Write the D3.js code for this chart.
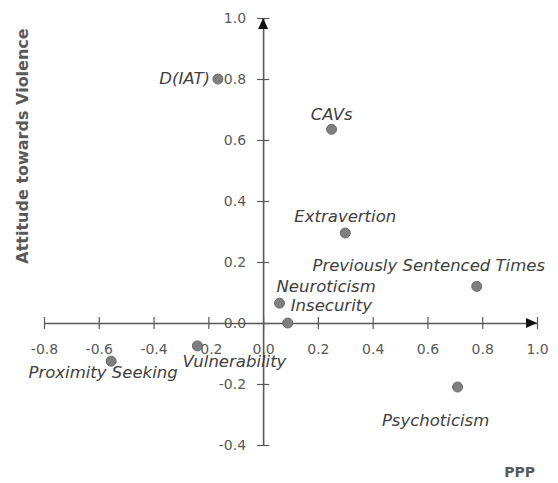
<!DOCTYPE html>
<html>
<head>
<meta charset="utf-8">
<script src="https://cdn.jsdelivr.net/npm/d3@7"></script>
<style>
  body { margin: 0; background: #fff; }
  svg { display: block; font-family: "DejaVu Sans", sans-serif; }
</style>
</head>
<body>
<svg width="558" height="483"></svg>
<script>
// data
const names = ["D(IAT)", "CAVs", "Extravertion", "Previously Sentenced Times", "Neuroticism",
  "Insecurity", "Vulnerability", "Proximity Seeking", "Psychoticism"]
const pppValues = [-0.165, 0.25, 0.30, 0.78, 0.06, 0.09, -0.24, -0.555, 0.71]
const violenceValues = [0.80, 0.635, 0.295, 0.12, 0.065, 0.0, -0.075, -0.125, -0.21]
const xTicks = [-0.8, -0.6, -0.4, -0.2, 0.0, 0.2, 0.4, 0.6, 0.8, 1.0]
const yTicks = [-0.4, -0.2, 0.0, 0.2, 0.4, 0.6, 0.8, 1.0]

// where each label sits relative to its point
const labelPlacement = [
  {dx: -8, dy: 5, anchor: "end"},
  {dx: 0, dy: -9, anchor: "middle"},
  {dx: 0, dy: -11, anchor: "middle"},
  {dx: -48, dy: -15, anchor: "middle"},
  {dx: -3, dy: -11, anchor: "start"},
  {dx: 3, dy: -12, anchor: "start"},
  {dx: -15, dy: 21, anchor: "start"},
  {dx: -8, dy: 17, anchor: "middle"},
  {dx: -22, dy: 39, anchor: "middle"}
]

const ink = "#595959"
const svg = d3.select("svg")

const x = d3.scaleLinear().domain([-0.8, 1.0]).range([44, 537])
const y = d3.scaleLinear().domain([-0.4, 1.0]).range([445, 18])
const fmt = v => d3.format(".1f")(v).replace("\u2212", "-")

// x axis along y = 0
const xAxis = svg.append("g")
  .attr("transform", "translate(0," + y(0) + ")")
  .call(d3.axisBottom(x).tickValues(xTicks).tickFormat(fmt).tickSizeOuter(0))
xAxis.select(".domain").attr("stroke", ink).attr("stroke-width", 1.6)
xAxis.selectAll(".tick line").attr("stroke", ink).attr("stroke-width", 1.2).attr("y1", -6).attr("y2", 6)
xAxis.selectAll(".tick text")
  .attr("y", 21).attr("dy", "0.71em")
  .attr("fill", ink).attr("font-size", 14).attr("font-family", "DejaVu Sans")

// y axis along x = 0
const yAxis = svg.append("g")
  .attr("transform", "translate(" + x(0) + ",0)")
  .call(d3.axisLeft(y).tickValues(yTicks).tickFormat(fmt).tickSizeOuter(0))
yAxis.select(".domain").attr("stroke", ink).attr("stroke-width", 1.6)
yAxis.selectAll(".tick line").attr("stroke", ink).attr("stroke-width", 1.2).attr("x1", -6).attr("x2", 6)
yAxis.selectAll(".tick text")
  .attr("x", -17)
  .attr("fill", ink).attr("font-size", 14).attr("font-family", "DejaVu Sans")

// arrow heads
const ax = x(1.0), ay = y(1.0), zx = x(0), zy = y(0)
svg.append("path")
  .attr("d", `M${ax},${zy} L${ax - 11},${zy - 5} L${ax - 11},${zy + 5} Z`)
  .attr("fill", "#111")
svg.append("path")
  .attr("d", `M${zx},${ay} L${zx - 5},${ay + 11} L${zx + 5},${ay + 11} Z`)
  .attr("fill", "#111")

// points
const pts = names.map((n, i) => ({name: n, px: pppValues[i], vy: violenceValues[i], lab: labelPlacement[i]}))

svg.append("g").selectAll("circle")
  .data(pts)
  .enter().append("circle")
  .attr("cx", d => x(d.px))
  .attr("cy", d => y(d.vy))
  .attr("r", 5)
  .attr("fill", "#7f7f7f")
  .attr("stroke", "#6a6a6a")
  .attr("stroke-width", 1)

svg.append("g").selectAll("text")
  .data(pts)
  .enter().append("text")
  .attr("x", d => x(d.px) + d.lab.dx)
  .attr("y", d => y(d.vy) + d.lab.dy)
  .attr("text-anchor", d => d.lab.anchor)
  .attr("font-style", "italic")
  .attr("font-size", 16.5)
  .attr("fill", "#404040")
  .text(d => d.name)

// axis titles
svg.append("text")
  .attr("transform", "translate(28,146) rotate(-90)")
  .attr("text-anchor", "middle")
  .attr("font-weight", "bold")
  .attr("font-size", 16)
  .attr("fill", ink)
  .text("Attitude towards Violence")

svg.append("text")
  .attr("x", 535)
  .attr("y", 477)
  .attr("text-anchor", "end")
  .attr("font-weight", "bold")
  .attr("font-size", 14)
  .attr("fill", ink)
  .text("PPP")
</script>
</body>
</html>
